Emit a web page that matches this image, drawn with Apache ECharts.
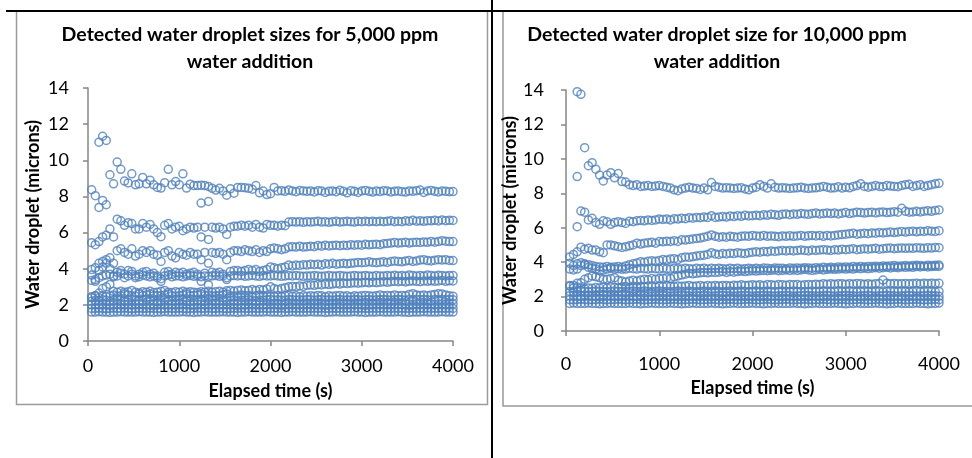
<!DOCTYPE html>
<html>
<head>
<meta charset="utf-8">
<script src="https://cdn.jsdelivr.net/npm/echarts@6/dist/echarts.min.js"></script>
<style>
  html, body { margin: 0; padding: 0; background: #fff; }
  #chart { width: 972px; height: 458px; }
</style>
</head>
<body>
<div id="chart"></div>
<script>
// sampling times (s), shared by both panels
const TIMES = [
  40, 80, 120, 160, 200, 240, 280, 320, 360, 400,
  440, 480, 520, 560, 600, 640, 680, 720, 760, 800,
  840, 880, 920, 960, 1000, 1040, 1080, 1120, 1160, 1200,
  1240, 1280, 1320, 1360, 1400, 1440, 1480, 1520, 1560, 1600,
  1640, 1680, 1720, 1760, 1800, 1840, 1880, 1920, 1960, 2000,
  2040, 2080, 2120, 2160, 2200, 2240, 2280, 2320, 2360, 2400,
  2440, 2480, 2520, 2560, 2600, 2640, 2680, 2720, 2760, 2800,
  2840, 2880, 2920, 2960, 3000, 3040, 3080, 3120, 3160, 3200,
  3240, 3280, 3320, 3360, 3400, 3440, 3480, 3520, 3560, 3600,
  3640, 3680, 3720, 3760, 3800, 3840, 3880, 3920, 3960, 4000
];

// ---- 5,000 ppm : droplet size bands (microns)
const ppm5k_b1 = [
  8.37, 8.04, 11.0, 11.33, 11.1, 9.2, 8.7, 9.9, 9.5, 8.85,
  8.75, 9.25, 8.64, 8.7, 9.05, 8.7, 8.9, 8.64, 8.5, 8.46,
  8.76, 9.5, 8.64, 8.82, 8.65, 9.25, 8.46, 8.68, 8.6, 8.6,
  8.62, 8.6, 8.55, 8.45, 8.35, 8.45, 8.3, 8.07, 8.42, 8.18,
  8.5, 8.5, 8.48, 8.45, 8.4, 8.6, 8.2, 8.3, 8.1, 8.15,
  8.5, 8.3, 8.32, 8.28, 8.35, 8.3, 8.26, 8.33, 8.3, 8.28,
  8.3, 8.25, 8.32, 8.3, 8.22, 8.28, 8.3, 8.26, 8.34, 8.28,
  8.2, 8.32, 8.28, 8.22, 8.3, 8.33, 8.28, 8.24, 8.3, 8.27,
  8.32, 8.3, 8.25, 8.28, 8.3, 8.26, 8.24, 8.3, 8.28, 8.32,
  8.35, 8.22, 8.3, 8.33, 8.28, 8.25, 8.3, 8.28, 8.26, 8.27
];
const ppm5k_b2 = [
  5.44, 5.33, 5.5, 5.76, 5.85, 6.2, 5.76, 6.74, 6.65, 6.4,
  6.55, 6.5, 6.2, 6.2, 6.5, 6.3, 6.45, 6.2, 6.0, 5.77,
  6.4, 6.5, 6.2, 6.3, 6.35, 6.1, 6.2, 6.3, 6.25, 6.3,
  5.76, 6.3, 5.62, 6.3, 6.25, 6.3, 6.2, 5.9, 6.3, 6.35,
  6.35, 6.4, 6.35, 6.4, 6.3, 6.45, 6.3, 6.25, 6.45, 6.4,
  6.4, 6.35, 6.4, 6.38, 6.58, 6.6, 6.58, 6.6, 6.57, 6.6,
  6.58, 6.6, 6.62, 6.58, 6.6, 6.57, 6.6, 6.62, 6.58, 6.6,
  6.62, 6.6, 6.58, 6.62, 6.6, 6.63, 6.6, 6.62, 6.6, 6.63,
  6.6, 6.62, 6.65, 6.6, 6.63, 6.6, 6.65, 6.62, 6.68, 6.63,
  6.65, 6.62, 6.66, 6.65, 6.68, 6.64, 6.7, 6.66, 6.68, 6.67
];
const ppm5k_b3 = [
  3.95, 4.05, 4.3, 4.4, 4.5, 4.6, 4.3, 5.0, 5.1, 4.9,
  4.8, 5.1, 4.7, 4.8, 5.0, 4.9, 5.0, 4.8, 4.75, 4.4,
  4.9, 5.0, 4.7, 4.6, 4.9, 4.8, 4.75, 4.9, 4.8, 4.8,
  4.5, 4.9, 4.3, 4.9, 4.85, 4.9, 4.8, 4.5, 4.9, 5.0,
  5.0, 4.95, 5.05, 5.0, 4.95, 5.05, 4.9, 5.0, 4.95, 5.1,
  5.15, 5.1, 5.05, 5.1, 5.2, 5.22, 5.2, 5.25, 5.2, 5.22,
  5.25, 5.22, 5.28, 5.25, 5.3, 5.26, 5.28, 5.3, 5.27, 5.3,
  5.28, 5.32, 5.3, 5.33, 5.3, 5.35, 5.32, 5.34, 5.36, 5.33,
  5.38, 5.4, 5.42, 5.45, 5.42, 5.44, 5.46, 5.42, 5.45, 5.47,
  5.45, 5.48, 5.46, 5.5, 5.47, 5.5, 5.55, 5.52, 5.5, 5.5
];
const ppm5k_b4 = [
  3.65, 3.4, 3.9, 4.1, 4.3, 4.0, 3.6, 3.8, 3.9, 3.7,
  3.9, 3.85, 3.6, 3.7, 3.8, 3.85, 3.7, 3.75, 3.6, 3.3,
  3.8, 3.85, 3.7, 3.8, 3.75, 3.8, 3.7, 3.75, 3.8, 3.7,
  3.3, 3.75, 3.1, 3.8, 3.75, 3.8, 3.7, 3.4, 3.85, 3.9,
  3.9, 3.85, 3.9, 3.95, 3.9, 3.95, 3.85, 3.9, 3.95, 4.1,
  4.05, 4.0, 4.05, 4.1, 4.2, 4.15, 4.2, 4.18, 4.22, 4.2,
  4.25, 4.22, 4.25, 4.2, 4.28, 4.25, 4.3, 4.25, 4.28, 4.3,
  4.27, 4.3, 4.32, 4.35, 4.33, 4.35, 4.38, 4.35, 4.33, 4.36,
  4.38, 4.35, 4.4, 4.42, 4.4, 4.38, 4.42, 4.45, 4.4, 4.43,
  4.48, 4.5, 4.45, 4.43, 4.47, 4.5, 4.48, 4.5, 4.46, 4.45
];
const ppm5k_b5 = [
  3.35, 3.3, 3.5, 3.6, 3.65, 3.7, 3.55, 3.6, 3.75, 3.5,
  3.6, 3.7, 3.5, 3.55, 3.65, 3.6, 3.55, 3.6, 3.5, 3.45,
  3.6, 3.65, 3.55, 3.6, 3.6, 3.55, 3.6, 3.62, 3.58, 3.6,
  3.55, 3.6, 3.58, 3.6, 3.62, 3.58, 3.6, 3.5, 3.6, 3.62,
  3.6, 3.62, 3.58, 3.6, 3.63, 3.6, 3.58, 3.62, 3.6, 3.6,
  3.62, 3.6, 3.58, 3.6, 3.62, 3.6, 3.63, 3.6, 3.58, 3.6,
  3.6, 3.62, 3.6, 3.58, 3.6, 3.62, 3.6, 3.6, 3.63, 3.6,
  3.58, 3.6, 3.62, 3.6, 3.6, 3.63, 3.6, 3.58, 3.62, 3.6,
  3.6, 3.62, 3.6, 3.64, 3.6, 3.62, 3.6, 3.65, 3.62, 3.6,
  3.63, 3.6, 3.65, 3.62, 3.6, 3.64, 3.62, 3.6, 3.63, 3.62
];
const ppm5k_b6 = [
  2.4, 2.5, 2.65, 2.9, 3.0, 3.13, 2.75, 2.7, 2.75, 2.7,
  2.72, 2.8, 2.7, 2.65, 2.72, 2.7, 2.75, 2.68, 2.7, 2.75,
  2.8, 2.7, 2.68, 2.72, 2.7, 2.75, 2.7, 2.72, 2.7, 2.68,
  2.72, 2.7, 2.75, 2.7, 2.72, 2.75, 2.7, 2.78, 2.8, 2.75,
  2.8, 2.82, 2.78, 2.8, 2.85, 2.8, 2.85, 2.82, 2.88, 3.0,
  2.9, 2.85, 2.9, 2.95, 3.0, 3.02, 3.0, 3.05, 3.02, 3.08,
  3.1, 3.08, 3.12, 3.1, 3.15, 3.12, 3.15, 3.18, 3.15, 3.2,
  3.18, 3.2, 3.22, 3.2, 3.22, 3.25, 3.22, 3.25, 3.23, 3.25,
  3.28, 3.25, 3.28, 3.3, 3.28, 3.3, 3.27, 3.3, 3.32, 3.3,
  3.28, 3.32, 3.3, 3.33, 3.3, 3.32, 3.35, 3.3, 3.33, 3.32
];
const ppm5k_b7 = [
  2.45, 2.5, 2.4, 2.5, 2.45, 2.5, 2.55, 2.48, 2.5, 2.6,
  2.55, 2.5, 2.48, 2.6, 2.5, 2.55, 2.6, 2.5, 2.52, 2.5,
  2.55, 2.6, 2.5, 2.48, 2.5, 2.55, 2.6, 2.5, 2.52, 2.55,
  2.6, 2.5, 2.55, 2.48, 2.5, 2.52, 2.55, 2.6, 2.5, 2.48,
  2.5, 2.55, 2.5, 2.52, 2.48, 2.5, 2.55, 2.5, 2.52, 2.45,
  2.48, 2.5, 2.45, 2.5, 2.52, 2.48, 2.5, 2.45, 2.5, 2.48,
  2.5, 2.48, 2.52, 2.5, 2.45, 2.5, 2.48, 2.5, 2.52, 2.48,
  2.5, 2.45, 2.5, 2.48, 2.5, 2.52, 2.5, 2.48, 2.5, 2.55,
  2.5, 2.52, 2.5, 2.55, 2.5, 2.52, 2.5, 2.58, 2.62, 2.55,
  2.52, 2.55, 2.5, 2.55, 2.58, 2.62, 2.6, 2.55, 2.5, 2.48
];
const ppm5k_b8 = [
  2.2, 2.25, 2.22, 2.28, 2.25, 2.2, 2.25, 2.3, 2.25, 2.22,
  2.25, 2.28, 2.25, 2.22, 2.25, 2.3, 2.25, 2.25, 2.22, 2.25,
  2.28, 2.25, 2.22, 2.25, 2.25, 2.28, 2.25, 2.22, 2.25, 2.25,
  2.25, 2.22, 2.28, 2.25, 2.25, 2.22, 2.25, 2.28, 2.25, 2.25,
  2.22, 2.25, 2.25, 2.28, 2.25, 2.22, 2.25, 2.25, 2.28, 2.3,
  2.25, 2.28, 2.25, 2.25, 2.3, 2.28, 2.25, 2.28, 2.25, 2.3,
  2.28, 2.25, 2.28, 2.3, 2.25, 2.28, 2.25, 2.28, 2.3, 2.25,
  2.28, 2.25, 2.3, 2.28, 2.25, 2.28, 2.3, 2.25, 2.28, 2.28,
  2.3, 2.28, 2.25, 2.28, 2.3, 2.28, 2.25, 2.3, 2.28, 2.3,
  2.28, 2.3, 2.28, 2.25, 2.3, 2.28, 2.3, 2.28, 2.3, 2.28
];
const ppm5k_b9 = [
  2.0, 2.02, 2.0, 2.05, 2.02, 2.0, 2.02, 2.05, 2.0, 2.02,
  2.02, 2.0, 2.02, 2.05, 2.02, 2.0, 2.02, 2.02, 2.05, 2.02,
  2.0, 2.02, 2.02, 2.0, 2.05, 2.02, 2.02, 2.0, 2.02, 2.05,
  2.02, 2.0, 2.02, 2.02, 2.05, 2.02, 2.0, 2.02, 2.02, 2.05,
  2.02, 2.02, 2.0, 2.02, 2.05, 2.02, 2.02, 2.0, 2.02, 2.05,
  2.02, 2.05, 2.02, 2.02, 2.05, 2.02, 2.05, 2.02, 2.02, 2.05,
  2.02, 2.05, 2.02, 2.05, 2.02, 2.02, 2.05, 2.02, 2.05, 2.02,
  2.05, 2.02, 2.02, 2.05, 2.02, 2.05, 2.02, 2.05, 2.02, 2.05,
  2.02, 2.05, 2.05, 2.02, 2.05, 2.02, 2.05, 2.05, 2.02, 2.05,
  2.05, 2.02, 2.05, 2.05, 2.02, 2.05, 2.05, 2.02, 2.05, 2.05
];
const ppm5k_b10 = [
  1.8, 1.8, 1.82, 1.8, 1.78, 1.8, 1.82, 1.8, 1.8, 1.82,
  1.8, 1.78, 1.8, 1.82, 1.8, 1.8, 1.82, 1.8, 1.8, 1.78,
  1.8, 1.82, 1.8, 1.8, 1.82, 1.8, 1.78, 1.8, 1.8, 1.82,
  1.8, 1.8, 1.82, 1.8, 1.8, 1.82, 1.8, 1.78, 1.8, 1.82,
  1.8, 1.82, 1.8, 1.8, 1.82, 1.8, 1.8, 1.82, 1.8, 1.8,
  1.82, 1.8, 1.82, 1.8, 1.8, 1.82, 1.8, 1.82, 1.8, 1.82,
  1.8, 1.82, 1.8, 1.82, 1.8, 1.8, 1.82, 1.8, 1.82, 1.8,
  1.82, 1.8, 1.82, 1.8, 1.82, 1.8, 1.8, 1.82, 1.8, 1.82,
  1.8, 1.82, 1.8, 1.82, 1.8, 1.82, 1.8, 1.8, 1.82, 1.8,
  1.82, 1.8, 1.82, 1.8, 1.82, 1.8, 1.82, 1.8, 1.82, 1.8
];
const ppm5k_b11 = [
  1.6, 1.6, 1.62, 1.6, 1.6, 1.58, 1.6, 1.6, 1.62, 1.6,
  1.6, 1.6, 1.6, 1.62, 1.6, 1.6, 1.6, 1.58, 1.6, 1.6,
  1.62, 1.6, 1.6, 1.6, 1.6, 1.62, 1.6, 1.6, 1.58, 1.6,
  1.6, 1.62, 1.6, 1.6, 1.6, 1.6, 1.62, 1.6, 1.6, 1.6,
  1.58, 1.6, 1.6, 1.62, 1.6, 1.6, 1.6, 1.6, 1.62, 1.6,
  1.6, 1.6, 1.58, 1.6, 1.6, 1.62, 1.6, 1.6, 1.6, 1.6,
  1.62, 1.6, 1.6, 1.6, 1.58, 1.6, 1.6, 1.62, 1.6, 1.6,
  1.6, 1.6, 1.62, 1.6, 1.6, 1.58, 1.6, 1.6, 1.6, 1.62,
  1.6, 1.6, 1.6, 1.6, 1.62, 1.6, 1.6, 1.58, 1.6, 1.6,
  1.6, 1.62, 1.6, 1.6, 1.6, 1.6, 1.62, 1.6, 1.6, 1.6
];
// stray early points
const ppm5k_extraTimes = [120, 160, 200, 1240, 1320];
const ppm5k_extraValues = [7.39, 7.78, 7.54, 7.63, 7.72];

// ---- 10,000 ppm
const ppm10k_b1 = [
  null, null, 13.9, 13.75, 10.65, 9.6, 9.78, 9.4, 9.06, 8.72,
  9.06, 9.2, 8.9, 9.15, 8.68, 8.65, 8.5, 8.45, 8.5, 8.4,
  8.42, 8.45, 8.4, 8.42, 8.45, 8.4, 8.35, 8.3, 8.2, 8.15,
  8.25, 8.3, 8.35, 8.3, 8.28, 8.22, 8.3, 8.2, 8.62, 8.4,
  8.35, 8.3, 8.32, 8.3, 8.28, 8.3, 8.32, 8.25, 8.2, 8.3,
  8.35, 8.5, 8.4, 8.3, 8.55, 8.35, 8.3, 8.32, 8.3, 8.28,
  8.3, 8.32, 8.35, 8.3, 8.28, 8.3, 8.32, 8.35, 8.4, 8.35,
  8.3, 8.32, 8.38, 8.3, 8.35, 8.32, 8.4, 8.45, 8.55, 8.4,
  8.35, 8.4, 8.45, 8.4, 8.38, 8.45, 8.42, 8.4, 8.38, 8.45,
  8.5, 8.52, 8.4, 8.45, 8.5, 8.4, 8.45, 8.5, 8.55, 8.58
];
const ppm10k_b2 = [
  null, null, null, 6.97, 6.9, 6.45, 6.55, 6.3, 6.2, 6.4,
  6.35, 6.2, 6.3, 6.35, 6.3, 6.25, 6.38, 6.35, 6.4, 6.42,
  6.4, 6.45, 6.42, 6.45, 6.5, 6.48, 6.5, 6.45, 6.52, 6.5,
  6.55, 6.52, 6.58, 6.55, 6.6, 6.58, 6.62, 6.6, 6.7, 6.6,
  6.62, 6.65, 6.62, 6.68, 6.65, 6.7, 6.66, 6.72, 6.68, 6.7,
  6.72, 6.7, 6.75, 6.72, 6.78, 6.75, 6.72, 6.78, 6.8, 6.76,
  6.8, 6.78, 6.82, 6.8, 6.78, 6.82, 6.85, 6.8, 6.82, 6.85,
  6.82, 6.85, 6.8, 6.84, 6.88, 6.82, 6.86, 6.9, 6.88, 6.85,
  6.88, 6.9, 6.86, 6.9, 6.92, 6.88, 6.9, 6.93, 6.9, 7.13,
  6.95, 6.9, 6.92, 6.95, 6.92, 6.96, 6.98, 6.95, 7.0, 7.03
];
const ppm10k_b3 = [
  4.3, 4.45, 4.6, 4.87, 4.75, 4.8, 4.7, 4.7, 4.6, 4.55,
  5.0, 5.0, 4.95, 4.9, 4.85, 4.9, 4.95, 5.0, 5.1, 5.05,
  5.1, 5.12, 5.15, 5.1, 5.2, 5.18, 5.22, 5.2, 5.25, 5.2,
  5.3, 5.28, 5.32, 5.35, 5.38, 5.4, 5.45, 5.5, 5.58, 5.5,
  5.45, 5.48, 5.45, 5.5, 5.48, 5.45, 5.5, 5.52, 5.5, 5.55,
  5.52, 5.5, 5.55, 5.5, 5.52, 5.5, 5.48, 5.52, 5.5, 5.53,
  5.5, 5.52, 5.55, 5.5, 5.53, 5.55, 5.52, 5.55, 5.5, 5.55,
  5.52, 5.55, 5.58, 5.6, 5.62, 5.65, 5.68, 5.62, 5.65, 5.68,
  5.65, 5.7, 5.68, 5.72, 5.7, 5.72, 5.75, 5.72, 5.75, 5.78,
  5.75, 5.78, 5.8, 5.76, 5.8, 5.78, 5.82, 5.8, 5.78, 5.83
];
const ppm10k_b4 = [
  3.93, 3.8, 3.6, 3.97, 3.9, 3.85, 3.8, 3.75, 3.72, 3.7,
  3.75, 3.7, 3.72, 3.75, 3.7, 3.78, 3.85, 3.9, 3.95, 4.03,
  4.0, 4.05, 4.08, 4.05, 4.1, 4.15, 4.12, 4.18, 4.2, 4.15,
  4.25, 4.3, 4.28, 4.32, 4.35, 4.38, 4.4, 4.45, 4.55, 4.48,
  4.45, 4.5, 4.48, 4.52, 4.5, 4.55, 4.52, 4.5, 4.55, 4.58,
  4.6, 4.58, 4.62, 4.6, 4.65, 4.62, 4.65, 4.68, 4.65, 4.68,
  4.65, 4.68, 4.7, 4.68, 4.65, 4.7, 4.68, 4.7, 4.72, 4.7,
  4.68, 4.72, 4.7, 4.75, 4.72, 4.75, 4.78, 4.72, 4.75, 4.78,
  4.75, 4.78, 4.8, 4.75, 4.78, 4.8, 4.82, 4.78, 4.8, 4.82,
  4.8, 4.82, 4.8, 4.84, 4.82, 4.8, 4.83, 4.82, 4.85, 4.84
];
const ppm10k_b5 = [
  3.6, 3.55, 3.9, 3.8, 3.85, 3.7, 3.65, 3.6, 3.5, 3.55,
  3.6, 3.65, 3.6, 3.62, 3.58, 3.6, 3.65, 3.62, 3.6, 3.65,
  3.62, 3.6, 3.65, 3.62, 3.6, 3.65, 3.62, 3.6, 3.64, 3.62,
  3.6, 3.65, 3.62, 3.6, 3.64, 3.62, 3.65, 3.6, 3.64, 3.62,
  3.65, 3.62, 3.6, 3.65, 3.62, 3.64, 3.6, 3.62, 3.65, 3.62,
  3.64, 3.62, 3.66, 3.64, 3.62, 3.66, 3.64, 3.65, 3.62, 3.66,
  3.64, 3.66, 3.65, 3.68, 3.66, 3.65, 3.68, 3.66, 3.7, 3.68,
  3.7, 3.68, 3.72, 3.7, 3.72, 3.7, 3.74, 3.72, 3.75, 3.72,
  3.75, 3.74, 3.76, 3.75, 3.78, 3.76, 3.78, 3.8, 3.76, 3.78,
  3.8, 3.78, 3.8, 3.82, 3.8, 3.78, 3.82, 3.8, 3.82, 3.83
];
const ppm10k_b6 = [
  2.6, 2.65, 2.77, 2.8, 3.0, 3.1, 3.2, 3.15, 3.1, 3.0,
  3.0, 3.05, 3.1, 2.95, 2.9, 2.85, 2.9, 2.95, 2.9, 2.96,
  3.0, 2.98, 3.05, 3.0, 3.05, 3.07, 3.1, 3.05, 3.15, 3.2,
  3.25, 3.3, 3.35, 3.32, 3.35, 3.38, 3.4, 3.38, 3.42, 3.4,
  3.42, 3.45, 3.4, 3.45, 3.42, 3.45, 3.48, 3.45, 3.48, 3.5,
  3.48, 3.5, 3.52, 3.5, 3.52, 3.55, 3.5, 3.52, 3.55, 3.52,
  3.55, 3.52, 3.55, 3.58, 3.55, 3.52, 3.55, 3.58, 3.55, 3.58,
  3.6, 3.58, 3.6, 3.62, 3.6, 3.62, 3.6, 3.64, 3.62, 3.65,
  3.62, 3.65, 3.68, 3.65, 3.68, 3.7, 3.66, 3.7, 3.68, 3.72,
  3.7, 3.72, 3.7, 3.74, 3.72, 3.75, 3.72, 3.74, 3.76, 3.75
];
const ppm10k_b7 = [
  2.65, 2.5, 2.55, 2.5, 2.45, 2.5, 2.48, 2.52, 2.5, 2.55,
  2.5, 2.55, 2.52, 2.5, 2.55, 2.58, 2.52, 2.6, 2.55, 2.58,
  2.55, 2.6, 2.58, 2.55, 2.6, 2.58, 2.62, 2.6, 2.58, 2.62,
  2.6, 2.62, 2.65, 2.6, 2.62, 2.65, 2.6, 2.64, 2.62, 2.65,
  2.62, 2.65, 2.64, 2.62, 2.66, 2.65, 2.68, 2.65, 2.66, 2.68,
  2.66, 2.68, 2.65, 2.7, 2.68, 2.66, 2.7, 2.68, 2.66, 2.7,
  2.68, 2.7, 2.66, 2.68, 2.7, 2.68, 2.72, 2.7, 2.75, 2.72,
  2.75, 2.72, 2.75, 2.74, 2.72, 2.75, 2.73, 2.76, 2.74, 2.72,
  2.75, 2.72, 2.74, 2.76, 2.96, 2.78, 2.75, 2.76, 2.74, 2.75,
  2.76, 2.74, 2.76, 2.78, 2.75, 2.77, 2.76, 2.78, 2.76, 2.77
];
const ppm10k_b8 = [
  2.3, 2.28, 2.3, 2.32, 2.3, 2.28, 2.3, 2.32, 2.3, 2.3,
  2.28, 2.3, 2.32, 2.3, 2.3, 2.28, 2.3, 2.32, 2.3, 2.3,
  2.32, 2.3, 2.28, 2.3, 2.32, 2.3, 2.3, 2.28, 2.3, 2.32,
  2.3, 2.3, 2.32, 2.3, 2.28, 2.3, 2.32, 2.3, 2.3, 2.32,
  2.3, 2.28, 2.3, 2.32, 2.3, 2.3, 2.32, 2.3, 2.28, 2.3,
  2.32, 2.3, 2.3, 2.32, 2.3, 2.28, 2.3, 2.32, 2.3, 2.3,
  2.32, 2.3, 2.3, 2.28, 2.3, 2.32, 2.3, 2.3, 2.32, 2.3,
  2.28, 2.3, 2.32, 2.3, 2.3, 2.32, 2.3, 2.28, 2.3, 2.32,
  2.3, 2.3, 2.32, 2.3, 2.28, 2.3, 2.32, 2.3, 2.3, 2.32,
  2.3, 2.28, 2.3, 2.32, 2.3, 2.3, 2.32, 2.3, 2.28, 2.3
];
const ppm10k_b9 = [
  2.05, 2.05, 2.02, 2.05, 2.08, 2.05, 2.02, 2.05, 2.05, 2.08,
  2.05, 2.02, 2.05, 2.05, 2.08, 2.05, 2.05, 2.02, 2.05, 2.08,
  2.05, 2.05, 2.02, 2.05, 2.05, 2.08, 2.05, 2.02, 2.05, 2.05,
  2.08, 2.05, 2.05, 2.02, 2.05, 2.05, 2.08, 2.05, 2.02, 2.05,
  2.05, 2.08, 2.05, 2.05, 2.02, 2.05, 2.05, 2.08, 2.05, 2.02,
  2.05, 2.05, 2.08, 2.05, 2.05, 2.02, 2.05, 2.05, 2.08, 2.05,
  2.02, 2.05, 2.05, 2.08, 2.05, 2.05, 2.02, 2.05, 2.05, 2.08,
  2.05, 2.02, 2.05, 2.05, 2.08, 2.05, 2.05, 2.02, 2.05, 2.05,
  2.08, 2.05, 2.02, 2.05, 2.05, 2.08, 2.05, 2.05, 2.02, 2.05,
  2.05, 2.08, 2.05, 2.02, 2.05, 2.05, 2.08, 2.05, 2.05, 2.02
];
const ppm10k_b10 = [
  1.82, 1.8, 1.82, 1.85, 1.82, 1.8, 1.82, 1.82, 1.85, 1.82,
  1.8, 1.82, 1.82, 1.85, 1.82, 1.8, 1.82, 1.82, 1.85, 1.82,
  1.8, 1.82, 1.82, 1.85, 1.82, 1.8, 1.82, 1.82, 1.85, 1.82,
  1.8, 1.82, 1.82, 1.85, 1.82, 1.8, 1.82, 1.82, 1.85, 1.82,
  1.8, 1.82, 1.82, 1.85, 1.82, 1.8, 1.82, 1.82, 1.85, 1.82,
  1.8, 1.82, 1.82, 1.85, 1.82, 1.8, 1.82, 1.82, 1.85, 1.82,
  1.8, 1.82, 1.82, 1.85, 1.82, 1.8, 1.82, 1.82, 1.85, 1.82,
  1.8, 1.82, 1.82, 1.85, 1.82, 1.8, 1.82, 1.82, 1.85, 1.82,
  1.8, 1.82, 1.82, 1.85, 1.82, 1.8, 1.82, 1.82, 1.85, 1.82,
  1.8, 1.82, 1.82, 1.85, 1.82, 1.8, 1.82, 1.82, 1.85, 1.82
];
const ppm10k_b11 = [
  1.6, 1.62, 1.6, 1.6, 1.6, 1.62, 1.6, 1.6, 1.58, 1.6,
  1.6, 1.62, 1.6, 1.6, 1.6, 1.6, 1.62, 1.6, 1.6, 1.58,
  1.6, 1.6, 1.62, 1.6, 1.6, 1.6, 1.6, 1.62, 1.6, 1.6,
  1.58, 1.6, 1.6, 1.62, 1.6, 1.6, 1.6, 1.6, 1.62, 1.6,
  1.6, 1.58, 1.6, 1.6, 1.62, 1.6, 1.6, 1.6, 1.6, 1.62,
  1.6, 1.6, 1.58, 1.6, 1.6, 1.62, 1.6, 1.6, 1.6, 1.6,
  1.62, 1.6, 1.6, 1.58, 1.6, 1.6, 1.62, 1.6, 1.6, 1.6,
  1.6, 1.62, 1.6, 1.6, 1.58, 1.6, 1.6, 1.62, 1.6, 1.6,
  1.6, 1.6, 1.62, 1.6, 1.6, 1.58, 1.6, 1.6, 1.62, 1.6,
  1.6, 1.6, 1.6, 1.62, 1.6, 1.6, 1.58, 1.6, 1.6, 1.62
];
const ppm10k_extraTimes = [120, 120];
const ppm10k_extraValues = [8.97, 6.06];

const Y_TICKS = [0, 2, 4, 6, 8, 10, 12, 14];
const X_TICKS = [0, 1000, 2000, 3000, 4000];

const bands5k = [ppm5k_b1, ppm5k_b2, ppm5k_b3, ppm5k_b4, ppm5k_b5, ppm5k_b6,
  ppm5k_b7, ppm5k_b8, ppm5k_b9, ppm5k_b10, ppm5k_b11];
const bands10k = [ppm10k_b1, ppm10k_b2, ppm10k_b3, ppm10k_b4, ppm10k_b5, ppm10k_b6,
  ppm10k_b7, ppm10k_b8, ppm10k_b9, ppm10k_b10, ppm10k_b11];

const FONT = 'Lato, "Open Sans", sans-serif';
const BLUE = '#4F81BD';
const AXIS_GREY = '#868686';

function markerSeries (data, idx) {
  return {
    type: 'scatter',
    xAxisIndex: idx,
    yAxisIndex: idx,
    symbol: 'circle',
    symbolSize: 8,
    silent: true,
    itemStyle: {
      color: 'rgba(0,0,0,0)',
      borderColor: BLUE,
      borderWidth: 1.5
    },
    data: data
  };
}

function buildSeries (bands, extraT, extraV, idx) {
  const list = bands.map(vals => markerSeries(
    TIMES.map((t, i) => [t, vals[i]]).filter(p => p[1] != null), idx));
  list.push(markerSeries(extraT.map((t, i) => [t, extraV[i]]), idx));
  return list;
}

function xAxisFor (idx, labelMargin, nameGap) {
  return {
    type: 'value',
    gridIndex: idx,
    min: X_TICKS[0],
    max: X_TICKS[X_TICKS.length - 1],
    interval: X_TICKS[1] - X_TICKS[0],
    name: 'Elapsed time (s)',
    nameLocation: 'middle',
    nameGap: nameGap,
    nameTextStyle: { color: '#000', fontSize: 18, fontWeight: 'bold', fontFamily: FONT },
    axisLine: { lineStyle: { color: AXIS_GREY, width: 1.5 } },
    axisTick: { show: true, length: 5, lineStyle: { color: AXIS_GREY, width: 1.5 } },
    splitLine: { show: false },
    axisLabel: {
      color: '#000', fontSize: 18, fontFamily: FONT, margin: labelMargin,
      formatter: v => String(v)
    }
  };
}

function yAxisFor (idx, labelMargin, nameGap) {
  return {
    type: 'value',
    gridIndex: idx,
    min: Y_TICKS[0],
    max: Y_TICKS[Y_TICKS.length - 1],
    interval: Y_TICKS[1] - Y_TICKS[0],
    name: 'Water droplet (microns)',
    nameLocation: 'middle',
    nameRotate: 90,
    nameGap: nameGap,
    nameTextStyle: { color: '#000', fontSize: 18, fontWeight: 'bold', fontFamily: FONT },
    axisLine: { show: true, lineStyle: { color: AXIS_GREY, width: 1.5 } },
    axisTick: { show: true, length: 5, lineStyle: { color: AXIS_GREY, width: 1.5 } },
    splitLine: { show: false },
    axisLabel: { color: '#000', fontSize: 18, fontFamily: FONT, margin: labelMargin }
  };
}

const chart = echarts.init(document.getElementById('chart'));
chart.setOption({
  animation: false,
  backgroundColor: '#fff',
  title: [{
    text: 'Detected water droplet sizes for 5,000 ppm\nwater addition',
    left: 250,
    top: 21,
    textAlign: 'center',
    padding: 0,
    textStyle: { color: '#000', fontSize: 19.5, fontWeight: 'bold', lineHeight: 27, fontFamily: FONT }
  }, {
    text: 'Detected water droplet size for 10,000 ppm\nwater addition',
    left: 717,
    top: 21,
    textAlign: 'center',
    padding: 0,
    textStyle: { color: '#000', fontSize: 19.5, fontWeight: 'bold', lineHeight: 27, fontFamily: FONT }
  }],
  grid: [
    { left: 88, top: 88, width: 365, height: 253 },
    { left: 566, top: 90, width: 373, height: 241 }
  ],
  xAxis: [xAxisFor(0, 16, 41), xAxisFor(1, 24, 48)],
  yAxis: [yAxisFor(0, 19, 46), yAxisFor(1, 22, 39)],
  // panel frames and the black divider lines
  graphic: [
    { type: 'rect', z: -1, shape: { x: 16.5, y: 11, width: 471, height: 393.5 },
      style: { fill: 'none', stroke: '#9a9a9a', lineWidth: 1.5 } },
    { type: 'rect', z: -1, shape: { x: 503, y: 11, width: 480, height: 395 },
      style: { fill: 'none', stroke: '#9a9a9a', lineWidth: 1.5 } },
    { type: 'line', shape: { x1: 6, y1: 11, x2: 972, y2: 11 },
      style: { stroke: '#000', lineWidth: 2 } },
    { type: 'line', shape: { x1: 492, y1: 0, x2: 492, y2: 458 },
      style: { stroke: '#000', lineWidth: 2 } }
  ],
  series: buildSeries(bands5k, ppm5k_extraTimes, ppm5k_extraValues, 0)
    .concat(buildSeries(bands10k, ppm10k_extraTimes, ppm10k_extraValues, 1))
});
</script>
</body>
</html>
